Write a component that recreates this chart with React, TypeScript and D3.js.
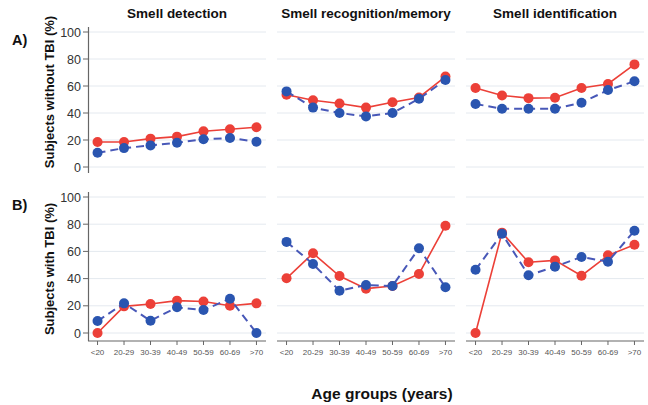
import React, { useRef, useEffect } from "react";
import { select, scaleLinear, scalePoint, line } from "d3";

const ageGroups = ["<20", "20-29", "30-39", "40-49", "50-59", "60-69", ">70"];
const panelTitles = ["Smell detection", "Smell recognition/memory", "Smell identification"];
const rowLabels = ["A)", "B)"];
const rowTitles = ["Subjects without TBI (%)", "Subjects with TBI (%)"];
const yTicks = [0, 20, 40, 60, 80, 100];

// row A: without TBI
const detectionA_red = [18.5, 18.5, 21, 22.5, 26.5, 28, 29.5];
const detectionA_blue = [10.5, 14, 16, 18, 20.5, 21.5, 18.7];
const recognitionA_red = [53.5, 49.5, 47, 44, 48, 51.5, 67];
const recognitionA_blue = [56, 44, 40, 37.5, 40, 50.5, 64.5];
const identificationA_red = [58.5, 53, 51, 51.3, 58.5, 61.5, 76];
const identificationA_blue = [46.7, 43.2, 43.2, 43.2, 47.6, 57, 63.5];

// row B: with TBI
const detectionB_red = [0, 19.6, 21.3, 23.8, 23.2, 20, 21.8];
const detectionB_blue = [8.8, 21.8, 9, 18.9, 16.9, 25.2, 0];
const recognitionB_red = [40.2, 58.6, 41.9, 32.6, 34.6, 43.4, 78.9];
const recognitionB_blue = [67, 50.7, 31.1, 35.3, 34.6, 62.3, 33.6];
const identificationB_red = [0, 73.8, 52, 53.4, 42.1, 57.1, 64.9];
const identificationB_blue = [46.5, 73, 42.4, 48.8, 55.9, 52.4, 75.2];

const rows = [
  [
    [detectionA_red, detectionA_blue],
    [recognitionA_red, recognitionA_blue],
    [identificationA_red, identificationA_blue],
  ],
  [
    [detectionB_red, detectionB_blue],
    [recognitionB_red, recognitionB_blue],
    [identificationB_red, identificationB_blue],
  ],
];

const RED = "#ec4038";
const BLUE = "#2a55b0";
const FONT = "Liberation Sans, Arial, sans-serif";

export default function App() {
  const svgRef = useRef<SVGSVGElement>(null);

  useEffect(() => {
    const svg = select(svgRef.current);
    svg.selectAll("*").remove();

    const colX = [88, 277, 466];
    const panelW = 178;
    const rowY = [
      { bottom: 167, top: 32 },
      { bottom: 333, top: 197 },
    ];

    rows.forEach((row, ri) => {
      const yScale = scaleLinear().domain([0, 100]).range([rowY[ri].bottom, rowY[ri].top]);

      row.forEach((series, ci) => {
        const x0 = colX[ci];
        const xScale = scalePoint<string>()
          .domain(ageGroups)
          .range([x0, x0 + panelW])
          .padding(0.36);
        const g = svg.append("g");

        // gridlines
        g.selectAll(".grid")
          .data(yTicks)
          .join("line")
          .attr("x1", x0)
          .attr("x2", x0 + panelW)
          .attr("y1", d => yScale(d))
          .attr("y2", d => yScale(d))
          .attr("stroke", "#e4e9ef")
          .attr("stroke-width", 1);

        // y axis only on first column
        if (ci === 0) {
          g.append("line")
            .attr("x1", x0 + 0.5)
            .attr("x2", x0 + 0.5)
            .attr("y1", yScale(100) - 5)
            .attr("y2", ri === 1 ? yScale(0) + 8 : yScale(0) + 6)
            .attr("stroke", "#666")
            .attr("stroke-width", 1.2);
          g.selectAll(".ytick")
            .data(yTicks)
            .join("line")
            .attr("x1", x0 - 5)
            .attr("x2", x0)
            .attr("y1", d => yScale(d))
            .attr("y2", d => yScale(d))
            .attr("stroke", "#666");
          g.selectAll(".ylab")
            .data(yTicks)
            .join("text")
            .attr("x", x0 - 7)
            .attr("y", d => yScale(d) + 4.5)
            .attr("text-anchor", "end")
            .attr("font-family", FONT)
            .attr("font-size", 12.5)
            .attr("fill", "#333")
            .text(d => d);
        }

        // x axis only on bottom row
        if (ri === 1) {
          const ax = yScale(0) + 8;
          g.append("line")
            .attr("x1", x0)
            .attr("x2", x0 + panelW)
            .attr("y1", ax)
            .attr("y2", ax)
            .attr("stroke", "#666")
            .attr("stroke-width", 1.2);
          g.selectAll(".xtick")
            .data(ageGroups)
            .join("line")
            .attr("x1", d => xScale(d)!)
            .attr("x2", d => xScale(d)!)
            .attr("y1", ax)
            .attr("y2", ax + 4)
            .attr("stroke", "#666");
          g.selectAll(".xlab")
            .data(ageGroups)
            .join("text")
            .attr("x", d => xScale(d)!)
            .attr("y", ax + 14)
            .attr("text-anchor", "middle")
            .attr("font-family", FONT)
            .attr("font-size", 8)
            .attr("fill", "#555")
            .text(d => d);
        }

        const lineGen = line<number>()
          .x((d, i) => xScale(ageGroups[i])!)
          .y(d => yScale(d));

        const [red, blue] = series;

        g.append("path")
          .attr("d", lineGen(red))
          .attr("fill", "none")
          .attr("stroke", RED)
          .attr("stroke-width", 1.6);
        g.selectAll(".reddot")
          .data(red)
          .join("circle")
          .attr("cx", (d, i) => xScale(ageGroups[i])!)
          .attr("cy", d => yScale(d))
          .attr("r", 5)
          .attr("fill", RED);

        g.append("path")
          .attr("d", lineGen(blue))
          .attr("fill", "none")
          .attr("stroke", "#4858b8")
          .attr("stroke-width", 2)
          .attr("stroke-dasharray", "8,5");
        g.selectAll(".bluedot")
          .data(blue)
          .join("circle")
          .attr("cx", (d, i) => xScale(ageGroups[i])!)
          .attr("cy", d => yScale(d))
          .attr("r", 5)
          .attr("fill", BLUE);

        if (ri === 0) {
          svg.append("text")
            .attr("x", x0 + panelW / 2)
            .attr("y", 18)
            .attr("text-anchor", "middle")
            .attr("font-family", FONT)
            .attr("font-weight", "bold")
            .attr("font-size", 13.5)
            .attr("fill", "#111")
            .text(panelTitles[ci]);
        }
      });

      svg.append("text")
        .attr("x", 12)
        .attr("y", ri === 0 ? 45 : 210)
        .attr("font-family", FONT)
        .attr("font-weight", "bold")
        .attr("font-size", 14.5)
        .attr("fill", "#111")
        .text(rowLabels[ri]);

      const cy = ri === 0 ? 92 : 269;
      svg.append("text")
        .attr("transform", `translate(54,${cy}) rotate(-90)`)
        .attr("text-anchor", "middle")
        .attr("font-family", FONT)
        .attr("font-weight", "bold")
        .attr("font-size", 13)
        .attr("fill", "#111")
        .text(rowTitles[ri]);
    });

    svg.append("text")
      .attr("x", 382)
      .attr("y", 399)
      .attr("text-anchor", "middle")
      .attr("font-family", FONT)
      .attr("font-weight", "bold")
      .attr("font-size", 15.5)
      .attr("fill", "#111")
      .text("Age groups (years)");
  }, []);

  return (
    <svg
      ref={svgRef}
      width={648}
      height={405}
      style={{ position: "absolute", left: 0, top: 0, background: "#fff" }}
    />
  );
}
